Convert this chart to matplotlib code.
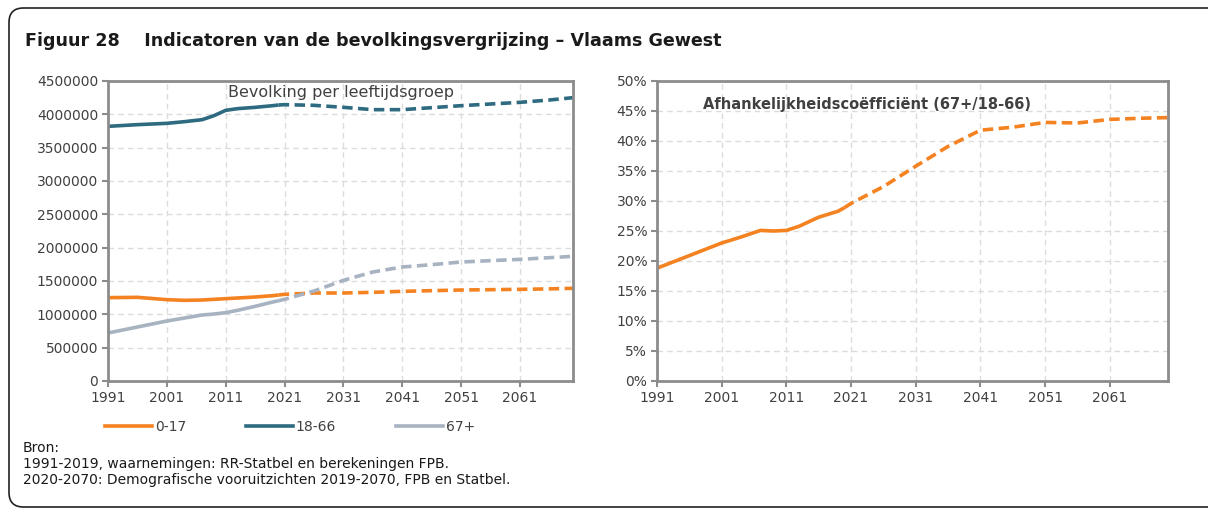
import numpy as np
import matplotlib
matplotlib.use('Agg')
import matplotlib.pyplot as plt
from matplotlib.patches import FancyBboxPatch
from matplotlib.lines import Line2D
from matplotlib.ticker import FuncFormatter, MultipleLocator

plt.rcParams['font.family'] = ['DejaVu Sans']

# population per age group (observed until 2020, projection afterwards)
years = [1991, 1996, 2001, 2004, 2007, 2009, 2011, 2013, 2016, 2019, 2020,
         2021, 2026, 2031, 2036, 2041, 2046, 2051, 2056, 2061, 2066, 2070]
pop_0_17 = [1250000, 1255000, 1220000, 1210000, 1215000, 1225000, 1235000, 1245000, 1260000, 1280000, 1290000,
            1300000, 1320000, 1320000, 1330000, 1345000, 1355000, 1365000, 1370000, 1375000, 1382000, 1390000]
pop_18_66 = [3820000, 3845000, 3865000, 3890000, 3920000, 3980000, 4060000, 4085000, 4105000, 4130000, 4140000,
             4145000, 4135000, 4105000, 4070000, 4070000, 4100000, 4130000, 4155000, 4180000, 4215000, 4250000]
pop_67 = [720000, 810000, 900000, 945000, 990000, 1005000, 1025000, 1060000, 1120000, 1185000, 1205000,
          1225000, 1350000, 1510000, 1635000, 1710000, 1745000, 1785000, 1805000, 1825000, 1850000, 1870000]
# dependency ratio 67+/18-66 in %
ratio = [18.8, 20.9, 23.0, 24.0, 25.1, 25.0, 25.1, 25.8, 27.3, 28.3, 28.9,
         29.6, 32.4, 35.8, 39.1, 41.8, 42.3, 43.1, 43.0, 43.6, 43.8, 43.9]

split_year = 2020
series_labels = ['0-17', '18-66', '67+']
colors = ['#F58220', '#2E6A80', '#A8B3C2']

years = np.array(years)
obs = years <= split_year
proj = years >= split_year

W, H = 1208, 512
fig = plt.figure(figsize=(W / 100, H / 100), dpi=100)

# outer rounded box
box = FancyBboxPatch((9 / W, 5 / H), 1.2, 499 / H, boxstyle='round,pad=0,rounding_size=0.012',
                     transform=fig.transFigure, fill=False, edgecolor='#222222', linewidth=1.2,
                     mutation_aspect=W / H)
fig.patches.append(box)

fig.text(25 / W, 1 - 41 / H, 'Figuur 28    Indicatoren van de bevolkingsvergrijzing \u2013 Vlaams Gewest',
         fontsize=12.6, fontweight='bold', color='#1a1a1a', va='center', ha='left')

frame_col = '#8C8C8C'
tick_col = '#404040'
dash = (2.9, 1.5)


def style_axes(ax):
    ax.set_xlim(1991, 2070)
    ax.set_xticks(range(1991, 2070, 10))
    ax.grid(True, color='#DCDCDC', linestyle=(0, (4, 3)), linewidth=1)
    ax.set_axisbelow(True)
    for s in ax.spines.values():
        s.set_color(frame_col)
        s.set_linewidth(2)
    ax.tick_params(colors=frame_col, labelcolor=tick_col, labelsize=10, length=4, width=1.5, pad=3)


ax1 = fig.add_axes([108 / W, 131 / H, 465 / W, 300 / H])
style_axes(ax1)
for vals, c in zip([pop_0_17, pop_18_66, pop_67], colors):
    vals = np.array(vals)
    ax1.plot(years[obs], vals[obs], color=c, lw=2.6, solid_capstyle='butt')
    ax1.plot(years[proj], vals[proj], color=c, lw=2.6, linestyle=(0, dash), dash_capstyle='butt')
ax1.set_ylim(0, 4500000)
ax1.yaxis.set_major_locator(MultipleLocator(500000))
ax1.yaxis.set_major_formatter(FuncFormatter(lambda v, p: '%d' % v))
ax1.text(0.5, 0.962, 'Bevolking per leeftijdsgroep', transform=ax1.transAxes, ha='center', va='center',
         fontsize=11.5, color='#404040')

ax2 = fig.add_axes([657 / W, 131 / H, 511 / W, 300 / H])
style_axes(ax2)
ratio = np.array(ratio)
ax2.plot(years[obs], ratio[obs], color=colors[0], lw=2.6, solid_capstyle='butt')
ax2.plot(years[proj], ratio[proj], color=colors[0], lw=2.6, linestyle=(0, dash), dash_capstyle='butt')
ax2.set_ylim(0, 50)
ax2.yaxis.set_major_locator(MultipleLocator(5))
ax2.yaxis.set_major_formatter(FuncFormatter(lambda v, p: '%d%%' % v))
ax2.text(0.41, 0.92, 'Afhankelijkheidsco\u00ebffici\u00ebnt (67+/18-66)', transform=ax2.transAxes,
         ha='center', va='center', fontsize=10.5, fontweight='bold', color='#404040')

handles = [Line2D([], [], color=c, lw=2.6) for c in colors]
fig.legend(handles, series_labels, loc='center', bbox_to_anchor=(290 / W, 1 - 427 / H), ncol=3,
           frameon=False, fontsize=10, handlelength=3.4, handletextpad=0.2, columnspacing=4.3,
           labelcolor=tick_col)

bron = ['Bron:',
        '1991-2019, waarnemingen: RR-Statbel en berekeningen FPB.',
        '2020-2070: Demografische vooruitzichten 2019-2070, FPB en Statbel.']
for i, line in enumerate(bron):
    fig.text(23 / W, 1 - (448 + 16 * i) / H, line, fontsize=10, color='#1a1a1a', va='center')

fig.savefig('out.png', dpi=100)
